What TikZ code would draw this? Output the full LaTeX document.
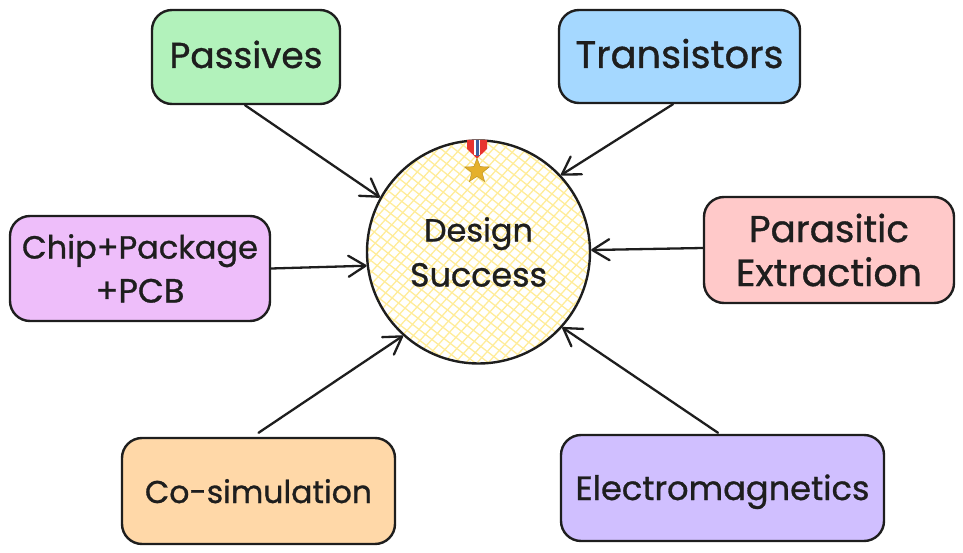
\documentclass[tikz,border=0pt]{standalone}
\usepackage{fontspec}
\usepackage{graphicx}
\setmainfont{Poppins}[FakeBold=0.9]
\usetikzlibrary{arrows.meta,shapes.geometric}
\definecolor{ink}{HTML}{1E1E1E}
\definecolor{cgreen}{HTML}{B2F2BB}
\definecolor{cblue}{HTML}{A5D8FF}
\definecolor{cpink}{HTML}{FFC9C9}
\definecolor{cchip}{HTML}{EEBEFA}
\definecolor{corange}{HTML}{FFD8A8}
\definecolor{cviolet}{HTML}{D0BFFF}
\definecolor{chatch}{HTML}{FFEC99}
\definecolor{cgold}{HTML}{E5B02B}
\definecolor{cribbon}{HTML}{E8332F}
\definecolor{cstripe}{HTML}{3F5F9E}
\newcommand{\fitw}[2]{\resizebox{#1pt}{!}{#2}}
\newcommand{\baseat}[3]{\raisebox{-#1pt}[20pt][20pt]{\fitw{#2}{#3}}}
\tikzset{
  cardbox/.style={draw=ink,line width=2.4pt,rounded corners=20pt,minimum width=#1,inner sep=0pt,align=center,text=ink,font=\fontsize{26}{44}\selectfont},
  conn/.style={draw=ink,line width=2.3pt,line cap=round,-{Straight Barb[length=17pt,width=21pt,line width=2.3pt,round]}},
  hatchline/.style={draw=chatch,line width=1.3pt}
}
\begin{document}
\begin{tikzpicture}[x=1pt,y=-1pt]
\useasboundingbox (0,0) rectangle (963,553);
\begin{scope}
\clip (478.5,251) circle[radius=111.5];
\foreach \k in {-16,...,16}{
  \draw[hatchline] ({478.5+8.2*\k*sin(38)-150*cos(38)},{251-8.2*\k*cos(38)-150*sin(38)}) -- ({478.5+8.2*\k*sin(38)+150*cos(38)},{251-8.2*\k*cos(38)+150*sin(38)});
  \draw[hatchline] ({478.5+8.2*\k*sin(48)-150*cos(48)},{251+8.2*\k*cos(48)+150*sin(48)}) -- ({478.5+8.2*\k*sin(48)+150*cos(48)},{251+8.2*\k*cos(48)-150*sin(48)});
}
\end{scope}
\node[cardbox=188pt,minimum height=94pt,fill=cgreen] (pas) at (246,57) {\baseat{11}{153}{Passives}};
\node[cardbox=241pt,minimum height=93pt,fill=cblue] (tra) at (679.5,56.5) {\baseat{11.5}{208}{Transistors}};
\node[cardbox=250pt,minimum height=106pt,fill=cpink] (par) at (829,250) {\fitw{160}{Parasitic}\\\fitw{186}{Extraction}};
\node[cardbox=260pt,minimum height=105pt,fill=cchip] (chi) at (140,268.5) {\fitw{236}{Chip+Package}\\\fitw{89}{+PCB}};
\node[cardbox=273pt,minimum height=106pt,fill=corange] (cos) at (258.5,491) {\baseat{12}{227}{Co-simulation}};
\node[cardbox=323pt,minimum height=106pt,fill=cviolet] (ele) at (722.5,488) {\baseat{12}{294}{Electromagnetics}};
\node[circle,draw=ink,line width=2.4pt,minimum size=223pt,inner sep=0pt,align=center,text=ink,font=\fontsize{26}{45}\selectfont] (suc) at (478.5,252) {\fitw{109}{Design}\\\fitw{137}{Success}};
\draw[conn] ([xshift=-1pt]pas.south) -- (suc.151);
\draw[conn] ([xshift=-6.5pt]tra.south) -- (suc.43);
\draw[conn] ([yshift=2pt]par.west) -- (suc.1.5);
\draw[conn] (chi.east) -- (suc.187);
\draw[conn] ([yshift=4pt]cos.north) -- (suc.228);
\draw[conn] ([xshift=-4.5pt,yshift=1pt]ele.north) -- (suc.318);
% medal
\fill[cribbon] (467,140) -- (487,140) -- (487,149) -- (477,158.5) -- (467,149) -- cycle;
\fill[white] (474,140) rectangle (480,155);
\fill[cstripe] (475.5,140) rectangle (478.5,156);
\node[star,star points=5,star point ratio=2.4,fill=cgold,draw=cgold!80!black,line width=0.4pt,minimum size=26pt,inner sep=0pt] (med) at (477,171) {};
\end{tikzpicture}
\end{document}
